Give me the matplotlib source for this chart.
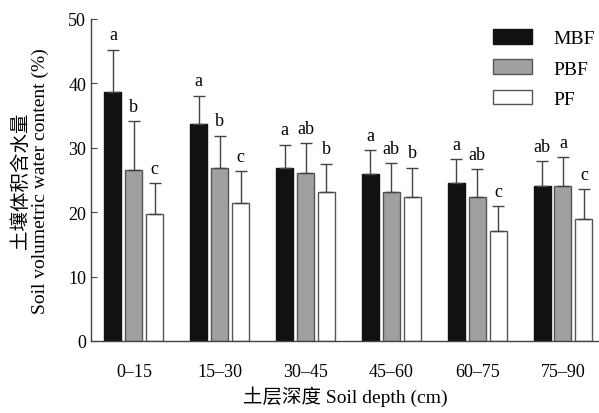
import numpy as np
import matplotlib.pyplot as plt

plt.rcParams['font.family'] = ['Liberation Serif', 'Noto Sans CJK SC']

depths = ["0–15", "15–30", "30–45", "45–60", "60–75", "75–90"]
series = ["MBF", "PBF", "PF"]

mbf = [38.7, 33.7, 26.8, 26.0, 24.6, 24.0]
pbf = [26.6, 26.8, 26.1, 23.1, 22.4, 24.0]
pf = [19.7, 21.4, 23.2, 22.4, 17.1, 18.9]

mbf_err = [6.5, 4.4, 3.7, 3.6, 3.6, 3.9]
pbf_err = [7.5, 5.1, 4.6, 4.5, 4.3, 4.5]
pf_err = [4.8, 5.0, 4.3, 4.5, 3.8, 4.7]

mbf_lab = ["a", "a", "a", "a", "a", "ab"]
pbf_lab = ["b", "b", "ab", "ab", "ab", "a"]
pf_lab = ["c", "c", "b", "b", "c", "c"]

colors = ["#111111", "#a0a0a0", "#ffffff"]
edges = ["#111111", "#555555", "#555555"]

fig = plt.figure(figsize=(5.99, 4.14), dpi=100)
ax = fig.add_axes([91 / 599, 1 - 342 / 414, (599 - 91) / 599, (342 - 20) / 414])

x = np.arange(len(depths))
width = 0.198
step = 0.244
vals = [mbf, pbf, pf]
errs = [mbf_err, pbf_err, pf_err]
labs = [mbf_lab, pbf_lab, pf_lab]

for i in range(3):
    pos = x + (i - 1) * step
    ax.bar(pos, vals[i], width, color=colors[i], edgecolor=edges[i],
           linewidth=1.0, label=series[i], zorder=2)
    ax.errorbar(pos, vals[i], yerr=[np.zeros(len(depths)), errs[i]], fmt='none',
                ecolor="#444444", elinewidth=1.0, capsize=4, capthick=1.0, zorder=3)
    for p, v, e, t in zip(pos, vals[i], errs[i], labs[i]):
        ax.text(p, v + e + 1.0, t, ha='center', va='bottom', fontsize=13)

ax.set_xlim(-0.5, 5.42)
ax.set_ylim(0, 50)
ax.set_yticks(range(0, 51, 10))
ax.set_xticks(x)
ax.set_xticklabels(depths, fontsize=13)
ax.tick_params(axis='y', direction='in', length=4, labelsize=13, color="#444444")
ax.tick_params(axis='x', length=0, pad=16)
for s in ['top', 'right']:
    ax.spines[s].set_visible(False)
for s in ['left', 'bottom']:
    ax.spines[s].set_color("#444444")
    ax.spines[s].set_linewidth(1.0)

ax.set_xlabel("土层深度 Soil depth (cm)", fontsize=14, labelpad=4)
ax.set_ylabel("土壤体积含水量\nSoil volumetric water content (%)", fontsize=14,
              labelpad=14, linespacing=1.1)

ax.legend(loc='upper right', bbox_to_anchor=(1.026, 1.023), frameon=False,
          fontsize=14, handlelength=2.0, handleheight=0.8, labelspacing=0.62,
          handletextpad=1.1)

fig.savefig("out.png", dpi=100)
